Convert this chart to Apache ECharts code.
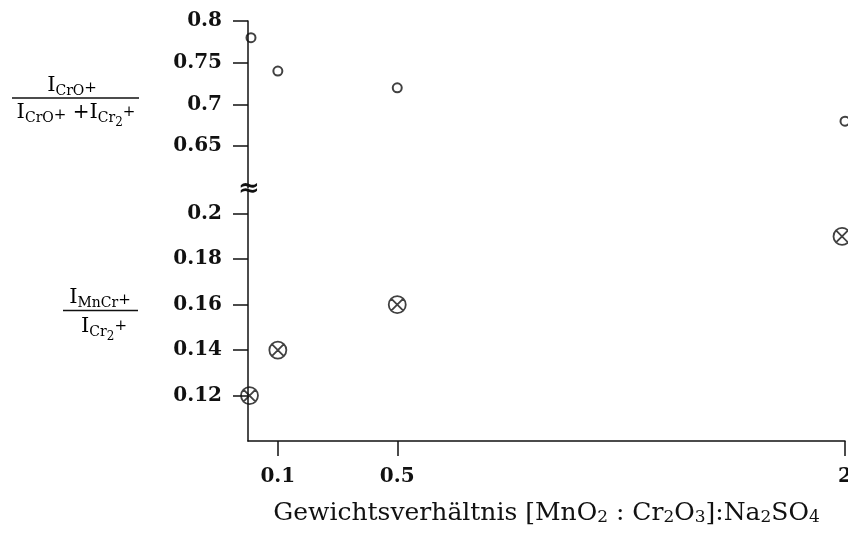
<!DOCTYPE html>
<html>
<head>
<meta charset="utf-8">
<script src="https://cdn.jsdelivr.net/npm/echarts@6/dist/echarts.min.js"></script>
<style>
  html, body { margin: 0; padding: 0; background: #fff; }
  #chart { width: 848px; height: 546px; }
</style>
</head>
<body>
<div id="chart"></div>
<script>
// x-Werte (Gewichtsverhältnis)
const xCro = [0.01, 0.1, 0.5, 2]
const yCro = [0.78, 0.74, 0.72, 0.68]
const xMnCr = [0.005, 0.1, 0.5, 1.99]
const yMnCr = [0.12, 0.14, 0.16, 0.19]

const xTicks = [0.1, 0.5, 2]
const yTicksTop = [0.65, 0.7, 0.75, 0.8]
const yTicksBottom = [0.12, 0.14, 0.16, 0.18, 0.2]

const serif = '"DejaVu Serif", serif'
const ink = '#111'

// Kreis mit Kreuz (⊗)
const crossCircle = 'path://M10,0A10,10,0,1,1,-10,0A10,10,0,1,1,10,0Z' +
  'M7.07,7.07L-7.07,-7.07M7.07,-7.07L-7.07,7.07'

const chart = echarts.init(document.getElementById('chart'))

const axisLine = { show: true, lineStyle: { color: ink, width: 1.5 } }
const tick = (vals) => ({
  show: true, length: 15, customValues: vals,
  lineStyle: { color: ink, width: 1.5 }
})
const label = (vals) => ({
  customValues: vals, margin: 26, color: ink,
  fontFamily: serif, fontWeight: 'bold', fontSize: 20
})

const richIdx = {
  I: { fontFamily: serif, fontSize: 21, color: ink },
  s: { fontFamily: serif, fontSize: 14, color: ink, padding: [10, 0, 0, 0] },
  ss: { fontFamily: serif, fontSize: 12, color: ink, padding: [20, 0, 0, 0] },
  p: { fontFamily: serif, fontSize: 15, color: ink, padding: [5, 0, 0, 0] },
  sp: { fontFamily: serif, fontSize: 15, color: ink, padding: [0, 0, 2, 0] },
  o: { fontFamily: serif, fontSize: 20, color: ink }
}

const option = {
  animation: false,
  backgroundColor: '#fff',
  grid: [
    { left: 248, width: 597, top: 21, height: 167, outerBoundsMode: 'none' },
    { left: 248, width: 597, top: 191, height: 250, outerBoundsMode: 'none' }
  ],
  xAxis: [
    {
      gridIndex: 0, type: 'value', min: 0, max: 2, show: false
    },
    {
      gridIndex: 1, type: 'value', min: 0, max: 2,
      axisLine: axisLine,
      axisTick: tick(xTicks),
      axisLabel: label(xTicks),
      splitLine: { show: false },
      name: '{t|Gewichtsverhältnis [MnO}{sb|2}{t| : Cr}{sb|2}{t|O}{sb|3}{t|]:Na}{sb|2}{t|SO}{sb|4}',
      nameLocation: 'middle',
      nameGap: 59,
      nameTextStyle: {
        rich: {
          t: { fontFamily: serif, fontSize: 25, color: ink },
          sb: { fontFamily: serif, fontSize: 17, color: ink, padding: [9, 0, 0, 0] }
        }
      }
    }
  ],
  yAxis: [
    {
      gridIndex: 0, type: 'value', min: 0.6, max: 0.8,
      axisLine: axisLine,
      axisTick: tick(yTicksTop),
      axisLabel: label(yTicksTop),
      splitLine: { show: false }
    },
    {
      gridIndex: 1, type: 'value', min: 0.1, max: 0.21,
      axisLine: axisLine,
      axisTick: tick(yTicksBottom),
      axisLabel: label(yTicksBottom),
      splitLine: { show: false }
    }
  ],
  series: [
    {
      name: 'CrO',
      type: 'scatter',
      xAxisIndex: 0, yAxisIndex: 0,
      data: xCro.map((x, i) => [x, yCro[i]]),
      symbol: 'circle',
      symbolSize: 9,
      itemStyle: { color: 'transparent', borderColor: ink, borderWidth: 2 }
    },
    {
      name: 'MnCr',
      type: 'scatter',
      xAxisIndex: 1, yAxisIndex: 1,
      data: xMnCr.map((x, i) => [x, yMnCr[i]]),
      symbol: crossCircle,
      symbolSize: 17,
      itemStyle: { color: 'transparent', borderColor: ink, borderWidth: 1.8 }
    }
  ],
  graphic: [
    // Achsenbruch
    {
      type: 'text', left: 238, top: 176, z: 100,
      style: { text: '≈', fontFamily: serif, fontSize: 26, fill: ink, fontWeight: 'bold' }
    },
    // oberer Bruch: I(CrO+) / (I(CrO+) + I(Cr2+))
    {
      type: 'text', x: 72, y: 86, z: 100,
      style: {
        text: '{I|I}{s|CrO}{p|+}',
        rich: richIdx, align: 'center', verticalAlign: 'middle'
      }
    },
    {
      type: 'line', z: 100,
      shape: { x1: 12, y1: 98, x2: 139, y2: 98 },
      style: { stroke: ink, lineWidth: 1.3 }
    },
    {
      type: 'text', x: 76, y: 113, z: 100,
      style: {
        text: '{I|I}{s|CrO}{p|+}{o| +}{I|I}{s|Cr}{ss|2}{sp|+}',
        rich: richIdx, align: 'center', verticalAlign: 'middle'
      }
    },
    // unterer Bruch: I(MnCr+) / I(Cr2+)
    {
      type: 'text', x: 100, y: 298, z: 100,
      style: {
        text: '{I|I}{s|MnCr}{p|+}',
        rich: richIdx, align: 'center', verticalAlign: 'middle'
      }
    },
    {
      type: 'line', z: 100,
      shape: { x1: 63, y1: 310.5, x2: 138, y2: 310.5 },
      style: { stroke: ink, lineWidth: 1.3 }
    },
    {
      type: 'text', x: 104, y: 327, z: 100,
      style: {
        text: '{I|I}{s|Cr}{ss|2}{sp|+}',
        rich: richIdx, align: 'center', verticalAlign: 'middle'
      }
    }
  ]
}

chart.setOption(option)

window.addEventListener('resize', () => chart.resize())
</script>
</body>
</html>
